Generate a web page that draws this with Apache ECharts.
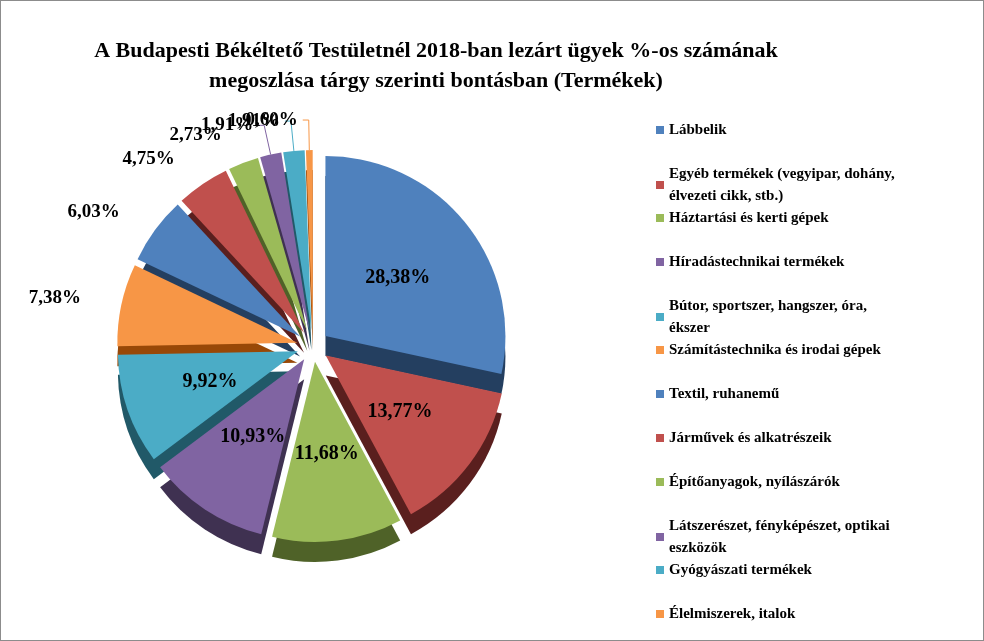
<!DOCTYPE html>
<html>
<head>
<meta charset="utf-8">
<script src="https://cdn.jsdelivr.net/npm/echarts@6/dist/echarts.min.js"></script>
<style>
html, body { margin: 0; padding: 0; background: #fff; }
#chart { width: 982px; height: 639px; border: 1px solid #8c8c8c; }
</style>
</head>
<body>
<div id="chart"></div>
<script>
var categories = [
	'Lábbelik',
	'Egyéb termékek (vegyipar, dohány,\nélvezeti cikk, stb.)',
	'Háztartási és kerti gépek',
	'Híradástechnikai termékek',
	'Bútor, sportszer, hangszer, óra,\nékszer',
	'Számítástechnika és irodai gépek',
	'Textil, ruhanemű',
	'Járművek és alkatrészeik',
	'Építőanyagok, nyílászárók',
	'Látszerészet, fényképészet, optikai\neszközök',
	'Gyógyászati termékek',
	'Élelmiszerek, italok'
];
var values = [28.38, 13.77, 11.68, 10.93, 9.92, 7.38, 6.03, 4.75, 2.73, 1.91, 1.91, 0.60];
var colors = ['#4F81BD', '#C0504D', '#9BBB59', '#8064A2', '#4BACC6', '#F79646',
	'#4F81BD', '#C0504D', '#9BBB59', '#8064A2', '#4BACC6', '#F79646'];
var sideColors = ['#243F60', '#5A1F1E', '#4F6228', '#3F3151', '#215968', '#984807',
	'#243F60', '#5A1F1E', '#4F6228', '#3F3151', '#215968', '#984807'];

var font = 'Liberation Serif';
var myChart = echarts.init(document.getElementById('chart'));

function fmt(v) {
	return v.toFixed(2).replace('.', ',') + '%';
}

var topData = [];
var sideData = [];
for (var i = 0; i < values.length; i++) {
	var inner = values[i] >= 9;
	topData.push({
		name: categories[i],
		value: values[i],
		selected: true,
		itemStyle: { color: colors[i] },
		label: {
			position: inner ? 'inside' : 'outside',
			fontSize: inner ? 20 : 19
		},
		labelLine: { show: values[i] < 2.5, length: 30, length2: 6 }
	});
	sideData.push({
		name: categories[i],
		value: values[i],
		selected: true,
		itemStyle: { color: sideColors[i] }
	});
}

var legends = [];
for (var j = 0; j < categories.length; j++) {
	legends.push({
		left: 650,
		top: 113 + j * 44,
		orient: 'vertical',
		itemWidth: 8,
		itemHeight: 8,
		icon: 'rect',
		data: [categories[j]],
		textStyle: { fontFamily: font, fontWeight: 'bold', fontSize: 15, color: '#000', lineHeight: 22 }
	});
}

var option = {
	color: colors,
	title: {
		text: 'A Budapesti Békéltető Testületnél 2018-ban lezárt ügyek %-os számának\nmegoszlása tárgy szerinti bontásban (Termékek)',
		left: 430,
		textAlign: 'center',
		top: 30,
		textStyle: { fontFamily: font, fontWeight: 'bold', fontSize: 22, lineHeight: 30, color: '#000' }
	},
	legend: legends,
	series: [
		{
			type: 'pie',
			center: [312, 345],
			radius: 180,
			startAngle: 90,
			selectedMode: 'multiple',
			selectedOffset: 16,
			avoidLabelOverlap: false,
			labelLayout: { hideOverlap: false },
			label: {
				formatter: function (p) { return fmt(p.value); },
				fontFamily: font,
				fontWeight: 'bold',
				color: '#000'
			},
			emphasis: { scale: false },
			data: topData,
			z: 2
		},
		{
			type: 'pie',
			silent: true,
			center: [312, 365],
			radius: 180,
			startAngle: 90,
			selectedMode: 'multiple',
			selectedOffset: 16,
			label: { show: false },
			labelLine: { show: false },
			data: sideData,
			z: 1
		}
	]
};
myChart.setOption(option);
</script>
</body>
</html>
